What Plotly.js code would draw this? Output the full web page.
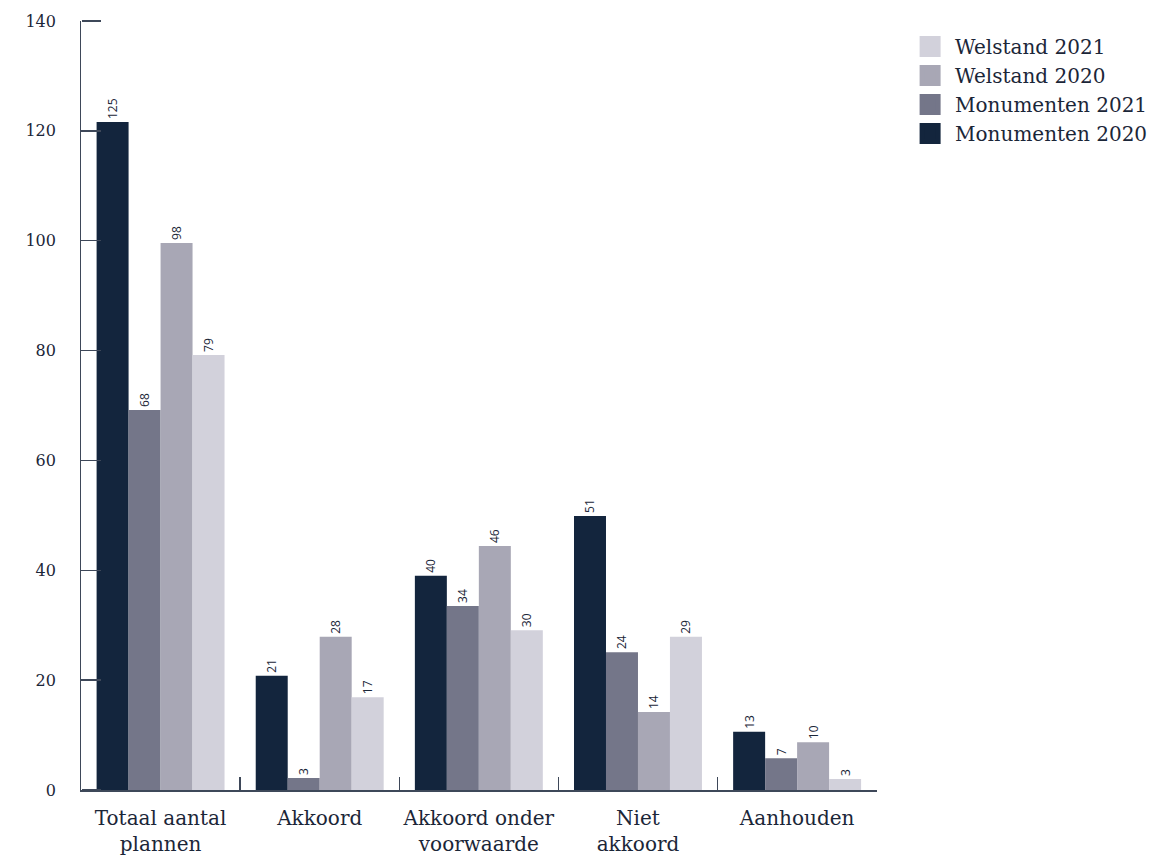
<!DOCTYPE html>
<html>
<head>
<meta charset="utf-8">
<script src="https://cdn.plot.ly/plotly-3.0.1.min.js"></script>
<style>html,body{margin:0;padding:0;background:#fff;}#chart{width:1153px;height:868px;}</style>
</head>
<body>
<div id="chart"></div>
<script>
// Categories (x-axis labels)
const categories = ["Totaal aantal<br>plannen", "Akkoord", "Akkoord onder<br>voorwaarde", "Niet<br>akkoord", "Aanhouden"];

// Bar heights as drawn in the reference
const monumenten2020 = [121.6, 20.8, 39.0, 49.9, 10.6];
const monumenten2021 = [69.2, 2.2, 33.5, 25.1, 5.8];
const welstand2020   = [99.6, 27.9, 44.4, 14.2, 8.7];
const welstand2021   = [79.2, 16.9, 29.1, 27.9, 2.0];

// Value labels printed above the bars
const labelsMonumenten2020 = ["125", "21", "40", "51", "13"];
const labelsMonumenten2021 = ["68", "3", "34", "24", "7"];
const labelsWelstand2020   = ["98", "28", "46", "14", "10"];
const labelsWelstand2021   = ["79", "17", "30", "29", "3"];

const seriesNames = ["Monumenten 2020", "Monumenten 2021", "Welstand 2020", "Welstand 2021"];

// Y tick labels
const yTicks = [0, 20, 40, 60, 80, 100, 120, 140];

const colors = ["#13253d", "#747689", "#a8a7b5", "#d2d1db"];
const serif = "DejaVu Serif, serif";
const sans = "Open Sans, DejaVu Sans, sans-serif";
const ink = "#1b2638";
const axisColor = "#3e4859";
const pad = "\u00a0\u00a0\u00a0\u00a0";

const values = [monumenten2020, monumenten2021, welstand2020, welstand2021];
const labels = [labelsMonumenten2020, labelsMonumenten2021, labelsWelstand2020, labelsWelstand2021];

const traces = [];
values.forEach((v, i) => {
  traces.push({
    type: "bar",
    name: seriesNames[i],
    x: categories,
    y: v,
    text: labels[i],
    textposition: "outside",
    textangle: -90,
    cliponaxis: false,
    textfont: {family: sans, size: 12, color: ink},
    marker: {color: colors[i]},
    showlegend: false,
    hoverinfo: "skip"
  });
});
// legend-only entries with larger swatches
values.forEach((v, i) => {
  traces.push({
    type: "scatter",
    mode: "markers",
    name: seriesNames[i],
    x: [null],
    y: [null],
    yaxis: "y2",
    marker: {symbol: "square", size: 16, color: colors[i], line: {color: colors[i], width: 5}},
    showlegend: true,
    hoverinfo: "skip"
  });
});

const layout = {
  width: 1153,
  height: 868,
  margin: {l: 81, r: 276, t: 21, b: 78},
  paper_bgcolor: "#fff",
  plot_bgcolor: "#fff",
  barmode: "group",
  bargap: 0.196,
  bargroupgap: 0,
  showlegend: true,
  legend: {
    xref: "container", x: 0.785, xanchor: "left",
    yref: "container", y: 0.969, yanchor: "top",
    traceorder: "reversed",
    itemwidth: 40,
    font: {family: serif, size: 20, color: ink},
    bgcolor: "rgba(0,0,0,0)"
  },
  xaxis: {
    type: "category",
    range: [-0.5, categories.length - 0.498],
    autorange: false,
    showline: true,
    linecolor: axisColor,
    linewidth: 1.5,
    ticks: "inside",
    tickson: "boundaries",
    ticklen: 13,
    tickcolor: axisColor,
    tickwidth: 1.5,
    tickangle: 0,
    ticklabelstandoff: 9,
    showgrid: false,
    zeroline: false,
    tickfont: {family: serif, size: 20, color: ink},
    fixedrange: true
  },
  yaxis: {
    range: [0, 140],
    tickvals: yTicks,
    ticktext: yTicks.map(t => String(t) + pad),
    showline: true,
    linecolor: axisColor,
    linewidth: 1.5,
    ticks: "inside",
    ticklen: 19,
    tickcolor: axisColor,
    tickwidth: 1.5,
    showgrid: false,
    zeroline: false,
    tickfont: {family: serif, size: 16, color: ink},
    fixedrange: true
  },
  // companion axis on the same scale that carries the tick marks pointing into the plot
  yaxis2: {
    overlaying: "y",
    anchor: "free",
    position: 0,
    side: "right",
    range: [0, 140],
    tickvals: yTicks,
    showticklabels: false,
    showline: false,
    ticks: "outside",
    ticklen: 19,
    tickcolor: axisColor,
    tickwidth: 1.5,
    showgrid: false,
    zeroline: false,
    fixedrange: true
  }
};

Plotly.newPlot("chart", traces, layout, {displayModeBar: false, staticPlot: true});
</script>
</body>
</html>
